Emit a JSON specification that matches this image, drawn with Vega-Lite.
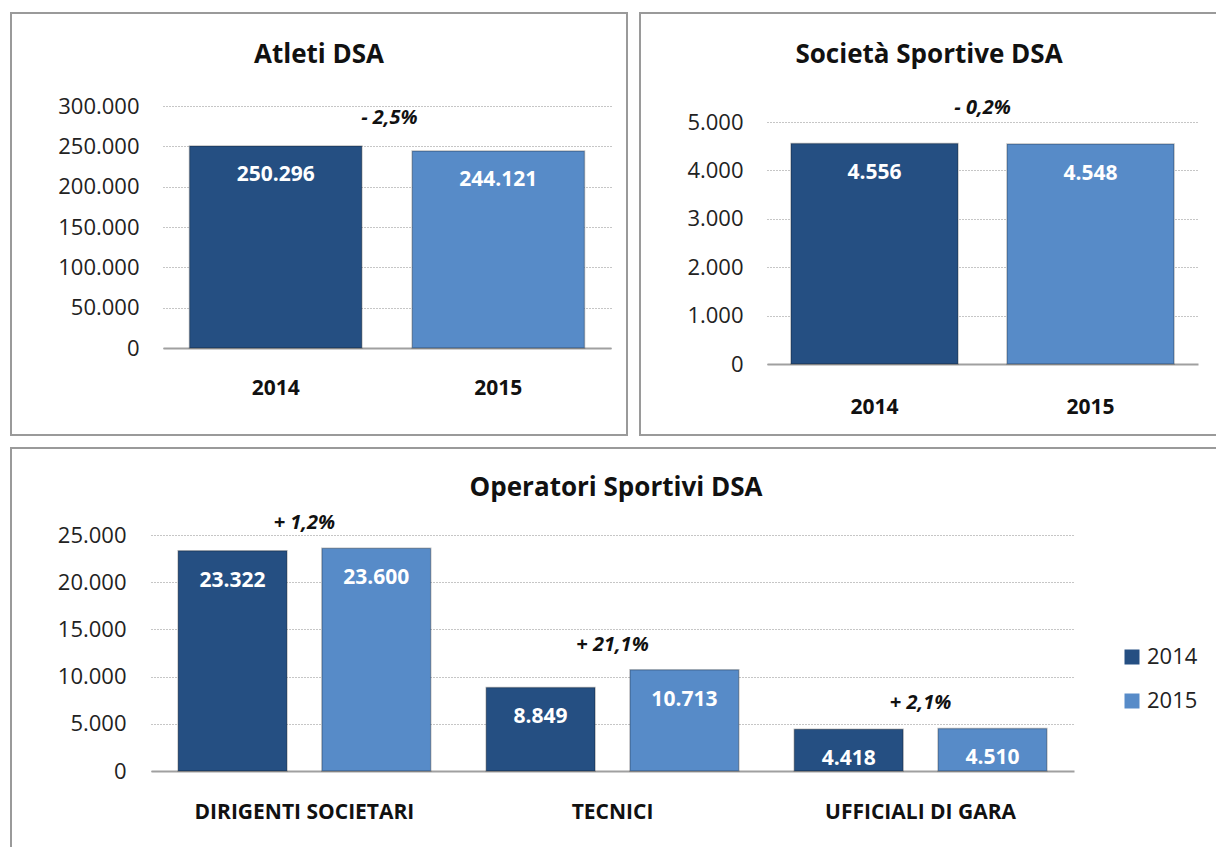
{
  "$schema": "https://vega.github.io/schema/vega-lite/v6.json",
  "padding": {"left": 10, "top": 12, "right": 0, "bottom": 0},
  "background": "white",
  "spacing": 11,
  "resolve": {"scale": {"color": "independent"}, "legend": {"color": "independent"}},
  "vconcat": [
    {
      "spacing": 11,
      "resolve": {"scale": {"color": "independent"}, "legend": {"color": "independent"}},
      "hconcat": [
        {
          "width": 616,
          "height": 422,
          "title": {"text": "Atleti DSA", "offset": -55},
          "data": {"values": [
            {"year": "2014", "value": 250296, "pct": "- 2,5%"},
            {"year": "2015", "value": 244121, "pct": ""}
          ]},
          "encoding": {
            "x": {"field": "year", "type": "nominal", "title": null,
              "scale": {"range": [152, 600], "paddingInner": 0.226, "paddingOuter": 0.119},
              "axis": {"offset": -87, "labelPadding": 40}},
            "y": {"field": "value", "type": "quantitative", "title": null,
              "scale": {"domain": [0, 300000], "range": [335, 93], "nice": false},
              "axis": {"values": [0, 50000, 100000, 150000, 200000, 250000, 300000], "offset": -152, "labelPadding": 24}}
          },
          "layer": [
            {"mark": {"type": "bar", "stroke": "#000", "strokeOpacity": 0.25, "strokeWidth": 1.5},
             "encoding": {"color": {"field": "year", "type": "nominal", "legend": null,
               "scale": {"domain": ["2014", "2015"], "range": ["#254f82", "#578bc8"]}}}},
            {"mark": {"type": "text", "dy": 29, "color": "white", "fontWeight": "bold", "fontSize": 21, "baseline": "middle"},
             "encoding": {"text": {"field": "value", "type": "quantitative", "format": ",d"}}},
            {"transform": [{"filter": "datum.year == '2014'"}],
             "mark": {"type": "text", "dy": -28, "color": "#111", "fontWeight": "bold", "fontStyle": "italic", "fontSize": 20, "baseline": "middle"},
             "encoding": {
               "x": {"field": "year", "type": "nominal", "bandPosition": 1.16},
               "text": {"field": "pct", "type": "nominal"}}}
          ]
        },
        {
          "width": 578,
          "height": 422,
          "title": {"text": "Società Sportive DSA", "offset": -55},
          "data": {"values": [
            {"year": "2014", "value": 4556, "pct": "- 0,2%"},
            {"year": "2015", "value": 4548, "pct": ""}
          ]},
          "encoding": {
            "x": {"field": "year", "type": "nominal", "title": null,
              "scale": {"range": [127, 558], "paddingInner": 0.227, "paddingOuter": 0.111},
              "axis": {"offset": -71, "labelPadding": 43}},
            "y": {"field": "value", "type": "quantitative", "title": null,
              "scale": {"domain": [0, 5000], "range": [351, 109], "nice": false},
              "axis": {"values": [0, 1000, 2000, 3000, 4000, 5000], "offset": -127, "labelPadding": 24}}
          },
          "layer": [
            {"mark": {"type": "bar", "stroke": "#000", "strokeOpacity": 0.25, "strokeWidth": 1.5},
             "encoding": {"color": {"field": "year", "type": "nominal", "legend": null,
               "scale": {"domain": ["2014", "2015"], "range": ["#254f82", "#578bc8"]}}}},
            {"mark": {"type": "text", "dy": 30, "color": "white", "fontWeight": "bold", "fontSize": 21, "baseline": "middle"},
             "encoding": {"text": {"field": "value", "type": "quantitative", "format": ",d"}}},
            {"transform": [{"filter": "datum.year == '2014'"}],
             "mark": {"type": "text", "dy": -35, "color": "#111", "fontWeight": "bold", "fontStyle": "italic", "fontSize": 20, "baseline": "middle"},
             "encoding": {
               "x": {"field": "year", "type": "nominal", "bandPosition": 1.147},
               "text": {"field": "pct", "type": "nominal"}}}
          ]
        }
      ]
    },
    {
      "width": 1210,
      "height": 400,
      "title": {"text": "Operatori Sportivi DSA", "offset": -53},
      "data": {"values": [
        {"cat": "DIRIGENTI SOCIETARI", "year": "2014", "value": 23322, "pct": "+ 1,2%"},
        {"cat": "DIRIGENTI SOCIETARI", "year": "2015", "value": 23600, "pct": "+ 1,2%"},
        {"cat": "TECNICI", "year": "2014", "value": 8849, "pct": "+ 21,1%"},
        {"cat": "TECNICI", "year": "2015", "value": 10713, "pct": "+ 21,1%"},
        {"cat": "UFFICIALI DI GARA", "year": "2014", "value": 4418, "pct": "+ 2,1%"},
        {"cat": "UFFICIALI DI GARA", "year": "2015", "value": 4510, "pct": "+ 2,1%"}
      ]},
      "encoding": {
        "x": {"field": "cat", "type": "nominal", "title": null,
          "scale": {"range": [140, 1063], "paddingInner": 0.18, "paddingOuter": 0.088},
          "axis": {"offset": -77, "labelPadding": 41}},
        "y": {"field": "value", "type": "quantitative", "title": null,
          "scale": {"domain": [0, 25000], "range": [323, 87], "nice": false},
          "axis": {"values": [0, 5000, 10000, 15000, 20000, 25000], "offset": -140, "labelPadding": 25}}
      },
      "layer": [
        {"mark": {"type": "bar", "stroke": "#000", "strokeOpacity": 0.25, "strokeWidth": 1.5},
         "encoding": {
           "xOffset": {"field": "year", "type": "nominal", "scale": {"paddingInner": 0.243, "paddingOuter": 0}},
           "color": {"field": "year", "type": "nominal",
             "scale": {"domain": ["2014", "2015"], "range": ["#254f82", "#578bc8"]},
             "legend": {"orient": "none", "legendX": 1110, "legendY": 198, "title": null, "symbolType": "square", "symbolSize": 225, "labelFontSize": 22, "labelFont": "Open Sans", "labelColor": "#222", "rowPadding": 22, "labelOffset": 4, "symbolStrokeWidth": 0}}}},
        {"mark": {"type": "text", "dy": 30, "color": "white", "fontWeight": "bold", "fontSize": 21, "baseline": "middle"},
         "encoding": {
           "xOffset": {"field": "year", "type": "nominal"},
           "text": {"field": "value", "type": "quantitative", "format": ",d"}}},
        {"transform": [{"aggregate": [{"op": "max", "field": "value", "as": "value"}], "groupby": ["cat", "pct"]}],
         "mark": {"type": "text", "dy": -25, "color": "#111", "fontWeight": "bold", "fontStyle": "italic", "fontSize": 20, "baseline": "middle"},
         "encoding": {"text": {"field": "pct", "type": "nominal"}}}
      ]
    }
  ],
  "config": {
    "font": "Open Sans",
    "locale": {"number": {"decimal": ",", "thousands": ".", "grouping": [3], "currency": ["€", ""]}},
    "view": {"stroke": "#9a9a9a", "strokeWidth": 2},
    "title": {"font": "Open Sans", "fontSize": 26, "fontWeight": "bold", "color": "#111", "anchor": "middle", "frame": "group"},
    "axis": {"domain": false, "ticks": false, "tickSize": 0, "grid": false, "labelFont": "Open Sans", "labelColor": "#222", "labelFontSize": 22, "labelLimit": 500},
    "axisX": {"domain": true, "domainColor": "#a0a0a0", "domainWidth": 2, "labelAngle": 0, "labelFontWeight": "bold", "labelBaseline": "middle", "labelColor": "#111", "labelFontSize": 21},
    "axisY": {"grid": true, "gridColor": "#8c8c8c", "gridDash": [1, 2], "gridWidth": 1}
  }
}
